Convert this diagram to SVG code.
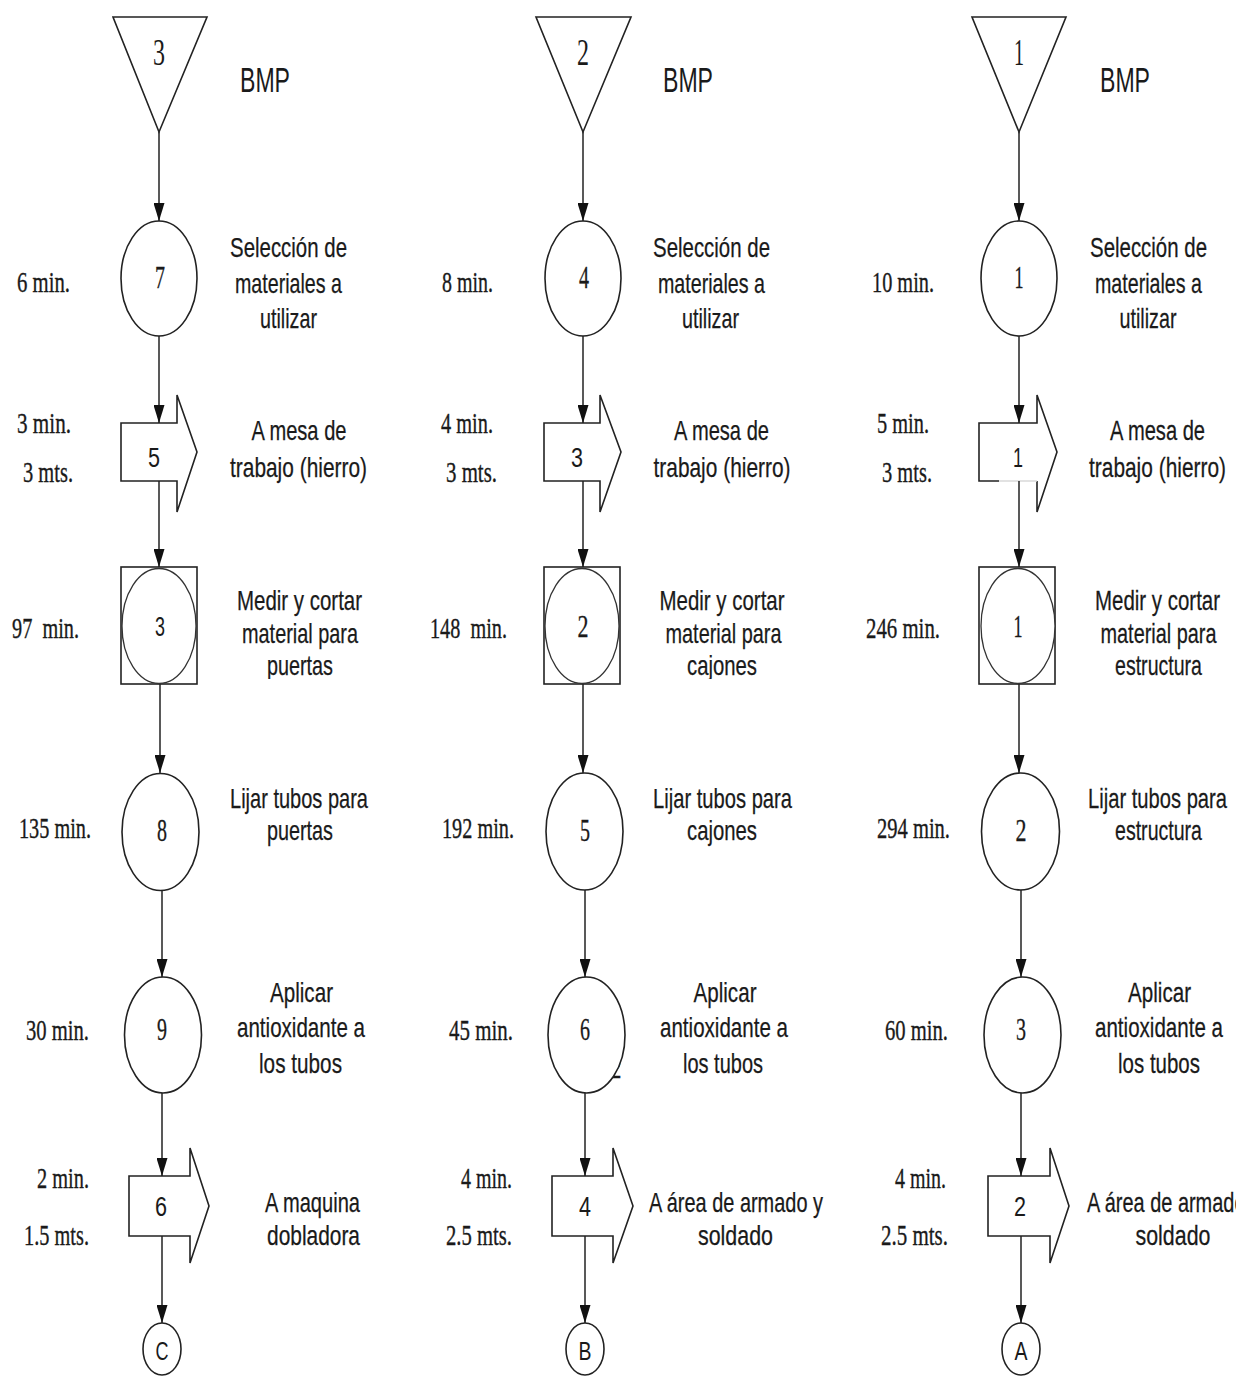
<svg xmlns="http://www.w3.org/2000/svg" width="1236" height="1377" viewBox="0 0 1236 1377">
  <style>
    .shape { fill: #fff; stroke: #222; stroke-width: 1.6; }
    .inner { fill: #fff; stroke: #333; stroke-width: 1.3; }
    .edge { fill: none; stroke: #222; stroke-width: 1.5; marker-end: url(#ah); }
    .num { font-family: "Liberation Serif", "Times New Roman", serif; font-size: 31px; fill: #1a1a1a; stroke: #1a1a1a; stroke-width: 0.3; text-anchor: middle; }
    .nums { font-family: "Liberation Sans", Arial, sans-serif; font-size: 28px; fill: #1a1a1a; text-anchor: middle; }
    .big { font-family: "Liberation Serif", "Times New Roman", serif; font-size: 38px; fill: #1a1a1a; text-anchor: middle; }
    .bmp { font-family: "Liberation Sans", Arial, sans-serif; font-size: 35px; fill: #1a1a1a; }
    .t { font-family: "Liberation Serif", "Times New Roman", serif; font-size: 29px; fill: #1a1a1a; stroke: #1a1a1a; stroke-width: 0.35; white-space: pre; }
    .l { font-family: "Liberation Sans", Arial, sans-serif; font-size: 28px; fill: #1a1a1a; stroke: #1a1a1a; stroke-width: 0.25; text-anchor: middle; }
    .ls { font-family: "Liberation Sans", Arial, sans-serif; font-size: 28px; fill: #1a1a1a; stroke: #1a1a1a; stroke-width: 0.25; }
    .cn { font-family: "Liberation Sans", Arial, sans-serif; font-size: 25px; fill: #1a1a1a; text-anchor: middle; }
  </style>
  <defs>
    <marker id="ah" viewBox="0 0 18 11" refX="18" refY="5.5" markerWidth="18" markerHeight="11" markerUnits="userSpaceOnUse" orient="auto">
      <path d="M0,0 L18,5.5 L0,11 Z" fill="#111"/>
    </marker>
    <!-- trims the descenders of the third label line under the measuring boxes -->
    <clipPath id="cut3" clipPathUnits="userSpaceOnUse">
      <rect x="0" y="0" width="1236" height="679"/>
    </clipPath>
  </defs>
  <rect width="1236" height="1377" fill="#fff"/>

  <!-- ===== Column 1 (storage 3) ===== -->
  <g id="c1-store">
    <polygon class="shape" points="113,17 207,17 159,132"/>
    <text class="big" x="159" y="65" textLength="12" lengthAdjust="spacingAndGlyphs">3</text>
    <text class="bmp" x="240" y="92" textLength="50" lengthAdjust="spacingAndGlyphs">BMP</text>
  </g>
  <g id="c1-op7">
    <ellipse class="shape" cx="159" cy="278.5" rx="38" ry="57.5"/>
    <text class="num" x="160" y="288" textLength="10" lengthAdjust="spacingAndGlyphs">7</text>
    <text class="t" x="17" y="292" textLength="53" lengthAdjust="spacingAndGlyphs">6 min.</text>
    <text class="l" x="288.5" y="257" textLength="117" lengthAdjust="spacingAndGlyphs">Selección de</text>
    <text class="l" x="288.5" y="293" textLength="107" lengthAdjust="spacingAndGlyphs">materiales a</text>
    <text class="l" x="288.5" y="328" textLength="57" lengthAdjust="spacingAndGlyphs">utilizar</text>
  </g>
  <g id="c1-tr5">
    <path class="shape" d="M121,423 H177 V395 L197,452 L177,512 V481 H121 Z"/>
    <text class="nums" x="154" y="467" textLength="12" lengthAdjust="spacingAndGlyphs">5</text>
    <text class="t" x="17" y="433" textLength="54" lengthAdjust="spacingAndGlyphs">3 min.</text>
    <text class="t" x="23" y="482" textLength="50" lengthAdjust="spacingAndGlyphs">3 mts.</text>
    <text class="l" x="299" y="440" textLength="95" lengthAdjust="spacingAndGlyphs">A mesa de</text>
    <text class="l" x="298.5" y="477" textLength="137" lengthAdjust="spacingAndGlyphs">trabajo (hierro)</text>
  </g>
  <g id="c1-insp3">
    <rect class="shape" x="121" y="567" width="76" height="117"/>
    <ellipse class="inner" cx="159" cy="626" rx="37" ry="57.5"/>
    <text class="nums" x="160" y="636" textLength="10" lengthAdjust="spacingAndGlyphs">3</text>
    <text class="t" x="12" y="638" textLength="67" lengthAdjust="spacingAndGlyphs">97  min.</text>
    <text class="l" x="299.5" y="610" textLength="125" lengthAdjust="spacingAndGlyphs">Medir y cortar</text>
    <text class="l" x="300" y="643" textLength="116" lengthAdjust="spacingAndGlyphs">material para</text>
    <text class="l" x="300" y="675" textLength="66" lengthAdjust="spacingAndGlyphs" clip-path="url(#cut3)">puertas</text>
  </g>
  <g id="c1-op8">
    <ellipse class="shape" cx="160.5" cy="832" rx="38.5" ry="58.5"/>
    <text class="num" x="162" y="841" textLength="10" lengthAdjust="spacingAndGlyphs">8</text>
    <text class="t" x="19" y="838" textLength="72" lengthAdjust="spacingAndGlyphs">135 min.</text>
    <text class="l" x="299" y="808" textLength="138" lengthAdjust="spacingAndGlyphs">Lijar tubos para</text>
    <text class="l" x="300" y="840" textLength="66" lengthAdjust="spacingAndGlyphs">puertas</text>
  </g>
  <g id="c1-op9">
    <ellipse class="shape" cx="163" cy="1035" rx="38.5" ry="58"/>
    <text class="num" x="162" y="1040" textLength="10" lengthAdjust="spacingAndGlyphs">9</text>
    <text class="t" x="26" y="1040" textLength="63" lengthAdjust="spacingAndGlyphs">30 min.</text>
    <text class="l" x="301.5" y="1002" textLength="63" lengthAdjust="spacingAndGlyphs">Aplicar</text>
    <text class="l" x="301" y="1037" textLength="128" lengthAdjust="spacingAndGlyphs">antioxidante a</text>
    <text class="l" x="300.5" y="1073" textLength="83" lengthAdjust="spacingAndGlyphs">los tubos</text>
  </g>
  <g id="c1-tr6">
    <path class="shape" d="M129,1176 H190 V1148 L209,1206 L190,1263 V1236 H129 Z"/>
    <text class="nums" x="161" y="1216" textLength="12" lengthAdjust="spacingAndGlyphs">6</text>
    <text class="t" x="37" y="1188" textLength="52" lengthAdjust="spacingAndGlyphs">2 min.</text>
    <text class="t" x="24" y="1245" textLength="65" lengthAdjust="spacingAndGlyphs">1.5 mts.</text>
    <text class="l" x="312.5" y="1212" textLength="95" lengthAdjust="spacingAndGlyphs">A maquina</text>
    <text class="l" x="313.5" y="1245" textLength="93" lengthAdjust="spacingAndGlyphs">dobladora</text>
  </g>
  <g id="c1-conC">
    <ellipse class="shape" cx="162" cy="1349" rx="19" ry="26"/>
    <text class="cn" x="162" y="1360" textLength="13" lengthAdjust="spacingAndGlyphs">C</text>
  </g>

  <!-- ===== Column 2 (storage 2) ===== -->
  <g id="c2-store">
    <polygon class="shape" points="536,17 631,17 583,132"/>
    <text class="big" x="583" y="65" textLength="12" lengthAdjust="spacingAndGlyphs">2</text>
    <text class="bmp" x="663" y="92" textLength="50" lengthAdjust="spacingAndGlyphs">BMP</text>
  </g>
  <g id="c2-op4">
    <ellipse class="shape" cx="583" cy="278.5" rx="38" ry="57.5"/>
    <text class="num" x="584" y="288" textLength="10" lengthAdjust="spacingAndGlyphs">4</text>
    <text class="t" x="442" y="292" textLength="51" lengthAdjust="spacingAndGlyphs">8 min.</text>
    <text class="l" x="711.5" y="257" textLength="117" lengthAdjust="spacingAndGlyphs">Selección de</text>
    <text class="l" x="711.5" y="293" textLength="107" lengthAdjust="spacingAndGlyphs">materiales a</text>
    <text class="l" x="710.5" y="328" textLength="57" lengthAdjust="spacingAndGlyphs">utilizar</text>
  </g>
  <g id="c2-tr3">
    <path class="shape" d="M544,423 H600 V395 L621,452 L600,512 V481 H544 Z"/>
    <text class="nums" x="577" y="467" textLength="12" lengthAdjust="spacingAndGlyphs">3</text>
    <text class="t" x="441" y="433" textLength="52" lengthAdjust="spacingAndGlyphs">4 min.</text>
    <text class="t" x="446" y="482" textLength="51" lengthAdjust="spacingAndGlyphs">3 mts.</text>
    <text class="l" x="721.5" y="440" textLength="95" lengthAdjust="spacingAndGlyphs">A mesa de</text>
    <text class="l" x="722" y="477" textLength="137" lengthAdjust="spacingAndGlyphs">trabajo (hierro)</text>
  </g>
  <g id="c2-insp2">
    <rect class="shape" x="544" y="567" width="76" height="117"/>
    <ellipse class="inner" cx="582" cy="626" rx="37" ry="57.5"/>
    <text class="num" x="583" y="637" textLength="11" lengthAdjust="spacingAndGlyphs">2</text>
    <text class="t" x="430" y="638" textLength="77" lengthAdjust="spacingAndGlyphs">148  min.</text>
    <text class="l" x="722" y="610" textLength="125" lengthAdjust="spacingAndGlyphs">Medir y cortar</text>
    <text class="l" x="723.5" y="643" textLength="116" lengthAdjust="spacingAndGlyphs">material para</text>
    <text class="l" x="722" y="675" textLength="70" lengthAdjust="spacingAndGlyphs" clip-path="url(#cut3)">cajones</text>
  </g>
  <g id="c2-op5">
    <ellipse class="shape" cx="584.5" cy="831.5" rx="38.5" ry="58.5"/>
    <text class="num" x="585" y="841" textLength="10" lengthAdjust="spacingAndGlyphs">5</text>
    <text class="t" x="442" y="838" textLength="72" lengthAdjust="spacingAndGlyphs">192 min.</text>
    <text class="l" x="722.5" y="808" textLength="139" lengthAdjust="spacingAndGlyphs">Lijar tubos para</text>
    <text class="l" x="722" y="840" textLength="70" lengthAdjust="spacingAndGlyphs">cajones</text>
  </g>
  <g id="c2-op6">
    <text class="ls" x="606" y="1078" font-size="20">2</text>
    <ellipse class="shape" cx="586.5" cy="1035" rx="38.5" ry="58"/>
    <text class="num" x="585" y="1040" textLength="10" lengthAdjust="spacingAndGlyphs">6</text>
    <text class="t" x="449" y="1040" textLength="64" lengthAdjust="spacingAndGlyphs">45 min.</text>
    <text class="l" x="725" y="1002" textLength="63" lengthAdjust="spacingAndGlyphs">Aplicar</text>
    <text class="l" x="724" y="1037" textLength="128" lengthAdjust="spacingAndGlyphs">antioxidante a</text>
    <text class="l" x="723" y="1073" textLength="80" lengthAdjust="spacingAndGlyphs">los tubos</text>
  </g>
  <g id="c2-tr4">
    <path class="shape" d="M552,1176 H613 V1148 L633,1206 L613,1263 V1236 H552 Z"/>
    <text class="nums" x="585" y="1216" textLength="12" lengthAdjust="spacingAndGlyphs">4</text>
    <text class="t" x="461" y="1188" textLength="51" lengthAdjust="spacingAndGlyphs">4 min.</text>
    <text class="t" x="446" y="1245" textLength="66" lengthAdjust="spacingAndGlyphs">2.5 mts.</text>
    <text class="l" x="736" y="1212" textLength="174" lengthAdjust="spacingAndGlyphs">A área de armado y</text>
    <text class="l" x="735.5" y="1245" textLength="75" lengthAdjust="spacingAndGlyphs">soldado</text>
  </g>
  <g id="c2-conB">
    <ellipse class="shape" cx="585" cy="1349" rx="19" ry="26"/>
    <text class="cn" x="585" y="1360" textLength="13" lengthAdjust="spacingAndGlyphs">B</text>
  </g>

  <!-- ===== Column 3 (storage 1); labels narrowed with a horizontal scale ===== -->
  <g id="c3-store">
    <polygon class="shape" points="972,17 1066,17 1019,132"/>
    <text class="big" x="1019" y="65" textLength="10" lengthAdjust="spacingAndGlyphs">1</text>
    <text class="bmp" x="1100" y="92" textLength="50" lengthAdjust="spacingAndGlyphs">BMP</text>
  </g>
  <g id="c3-op1">
    <ellipse class="shape" cx="1019" cy="278.5" rx="38" ry="57.5"/>
    <text class="num" x="1019" y="288" textLength="9" lengthAdjust="spacingAndGlyphs">1</text>
    <text class="t" x="872" y="292" textLength="62" lengthAdjust="spacingAndGlyphs">10 min.</text>
    <text class="l" transform="translate(1148.5 257) scale(0.75 1)" textLength="156" lengthAdjust="spacingAndGlyphs">Selección de</text>
    <text class="l" transform="translate(1148.5 293) scale(0.75 1)" textLength="142.7" lengthAdjust="spacingAndGlyphs">materiales a</text>
    <text class="l" transform="translate(1148 328) scale(0.75 1)" textLength="76" lengthAdjust="spacingAndGlyphs">utilizar</text>
  </g>
  <g id="c3-tr1">
    <path class="shape" d="M999,481 H979 V423 H1037 V395 L1057,452 L1037,512 V481"/>
    <line x1="999" y1="481" x2="1037" y2="481" stroke="#d8d8d8" stroke-width="1.5"/>
    <text class="nums" x="1018" y="467" textLength="10" lengthAdjust="spacingAndGlyphs">1</text>
    <text class="t" x="877" y="433" textLength="52" lengthAdjust="spacingAndGlyphs">5 min.</text>
    <text class="t" x="882" y="482" textLength="50" lengthAdjust="spacingAndGlyphs">3 mts.</text>
    <text class="l" transform="translate(1157.5 440) scale(0.75 1)" textLength="126.7" lengthAdjust="spacingAndGlyphs">A mesa de</text>
    <text class="l" transform="translate(1157.5 477) scale(0.75 1)" textLength="182.7" lengthAdjust="spacingAndGlyphs">trabajo (hierro)</text>
  </g>
  <g id="c3-insp1">
    <rect class="shape" x="979" y="567" width="76" height="117"/>
    <ellipse class="inner" cx="1018" cy="626" rx="37" ry="57.5"/>
    <text class="num" x="1018" y="637" textLength="9" lengthAdjust="spacingAndGlyphs">1</text>
    <text class="t" x="866" y="638" textLength="74" lengthAdjust="spacingAndGlyphs">246 min.</text>
    <text class="l" transform="translate(1157.5 610) scale(0.75 1)" textLength="166.7" lengthAdjust="spacingAndGlyphs">Medir y cortar</text>
    <text class="l" transform="translate(1158.5 643) scale(0.75 1)" textLength="154.7" lengthAdjust="spacingAndGlyphs">material para</text>
    <text class="l" transform="translate(1158.5 675) scale(0.75 1)" textLength="116" lengthAdjust="spacingAndGlyphs">estructura</text>
  </g>
  <g id="c3-op2">
    <ellipse class="shape" cx="1020.5" cy="831.5" rx="39" ry="58.5"/>
    <text class="num" x="1021" y="841" textLength="11" lengthAdjust="spacingAndGlyphs">2</text>
    <text class="t" x="877" y="838" textLength="73" lengthAdjust="spacingAndGlyphs">294 min.</text>
    <text class="l" transform="translate(1157.5 808) scale(0.75 1)" textLength="185.3" lengthAdjust="spacingAndGlyphs">Lijar tubos para</text>
    <text class="l" transform="translate(1158.5 840) scale(0.75 1)" textLength="116" lengthAdjust="spacingAndGlyphs">estructura</text>
  </g>
  <g id="c3-op3">
    <ellipse class="shape" cx="1022.5" cy="1035" rx="38.5" ry="58"/>
    <text class="num" x="1021" y="1040" textLength="10" lengthAdjust="spacingAndGlyphs">3</text>
    <text class="t" x="885" y="1040" textLength="63" lengthAdjust="spacingAndGlyphs">60 min.</text>
    <text class="l" transform="translate(1159.5 1002) scale(0.75 1)" textLength="84" lengthAdjust="spacingAndGlyphs">Aplicar</text>
    <text class="l" transform="translate(1159 1037) scale(0.75 1)" textLength="170.7" lengthAdjust="spacingAndGlyphs">antioxidante a</text>
    <text class="l" transform="translate(1159 1073) scale(0.75 1)" textLength="109.3" lengthAdjust="spacingAndGlyphs">los tubos</text>
  </g>
  <g id="c3-tr2">
    <path class="shape" d="M988,1176 H1050 V1148 L1069,1206 L1050,1263 V1236 H988 Z"/>
    <text class="nums" x="1020" y="1216" textLength="12" lengthAdjust="spacingAndGlyphs">2</text>
    <text class="t" x="895" y="1188" textLength="51" lengthAdjust="spacingAndGlyphs">4 min.</text>
    <text class="t" x="881" y="1245" textLength="67" lengthAdjust="spacingAndGlyphs">2.5 mts.</text>
    <text class="ls" transform="translate(1087 1212) scale(0.75 1)" textLength="232" lengthAdjust="spacingAndGlyphs">A área de armado y</text>
    <text class="l" transform="translate(1173 1245) scale(0.75 1)" textLength="100" lengthAdjust="spacingAndGlyphs">soldado</text>
  </g>
  <g id="c3-conA">
    <ellipse class="shape" cx="1021" cy="1349" rx="19" ry="26"/>
    <text class="cn" x="1021" y="1360" textLength="13" lengthAdjust="spacingAndGlyphs">A</text>
  </g>

  <!-- ===== Flow connectors ===== -->
  <g id="connectors">
    <line class="edge" x1="159" y1="132" x2="159" y2="221"/>
    <line class="edge" x1="159" y1="336" x2="159" y2="423"/>
    <line class="edge" x1="159" y1="481" x2="159" y2="567"/>
    <line class="edge" x1="160" y1="684" x2="160" y2="773"/>
    <line class="edge" x1="162" y1="890" x2="162" y2="977"/>
    <line class="edge" x1="162" y1="1093" x2="162" y2="1176"/>
    <line class="edge" x1="162" y1="1236" x2="162" y2="1323"/>

    <line class="edge" x1="583" y1="132" x2="583" y2="221"/>
    <line class="edge" x1="583" y1="336" x2="583" y2="423"/>
    <line class="edge" x1="583" y1="481" x2="583" y2="567"/>
    <line class="edge" x1="583" y1="684" x2="583" y2="773"/>
    <line class="edge" x1="585" y1="890" x2="585" y2="977"/>
    <line class="edge" x1="585" y1="1093" x2="585" y2="1176"/>
    <line class="edge" x1="585" y1="1236" x2="585" y2="1323"/>

    <line class="edge" x1="1019" y1="132" x2="1019" y2="221"/>
    <line class="edge" x1="1019" y1="336" x2="1019" y2="423"/>
    <line class="edge" x1="1019" y1="481" x2="1019" y2="567"/>
    <line class="edge" x1="1019" y1="684" x2="1019" y2="773"/>
    <line class="edge" x1="1021" y1="890" x2="1021" y2="977"/>
    <line class="edge" x1="1021" y1="1093" x2="1021" y2="1176"/>
    <line class="edge" x1="1021" y1="1236" x2="1021" y2="1323"/>
  </g>
</svg>
